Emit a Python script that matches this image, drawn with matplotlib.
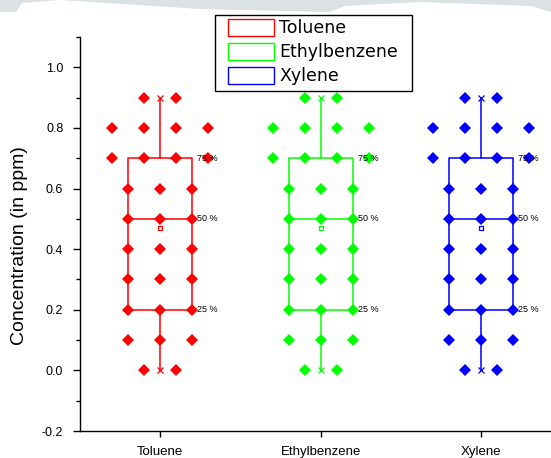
import numpy as np
import matplotlib
matplotlib.use("Agg")
import matplotlib.pyplot as plt
from matplotlib.patches import Patch, Polygon, Rectangle

plt.rcParams['font.family'] = ['Liberation Sans', 'DejaVu Sans']

# Data
categories = ['Toluene', 'Ethylbenzene', 'Xylene']
colors = ['#ff0000', '#00ff00', '#0000ff']

toluene = [0.9]*2 + [0.8]*4 + [0.7]*4 + [0.6]*3 + [0.5]*3 + [0.4]*3 + [0.3]*3 + [0.2]*3 + [0.1]*3 + [0.0]*2
ethylbenzene = [0.9]*2 + [0.8]*4 + [0.7]*4 + [0.6]*3 + [0.5]*3 + [0.4]*3 + [0.3]*3 + [0.2]*3 + [0.1]*3 + [0.0]*2
xylene = [0.9]*2 + [0.8]*4 + [0.7]*4 + [0.6]*3 + [0.5]*3 + [0.4]*3 + [0.3]*3 + [0.2]*3 + [0.1]*3 + [0.0]*2
series = [toluene, ethylbenzene, xylene]

# box statistics as shown (Origin box chart)
q1 = [0.2, 0.2, 0.2]
median = [0.5, 0.5, 0.5]
q3 = [0.7, 0.7, 0.7]
whisker_lo = [0.0, 0.0, 0.0]
whisker_hi = [0.9, 0.9, 0.9]
means = [0.47, 0.47, 0.47]

W, H = 551, 458
fig = plt.figure(figsize=(W/100, H/100), dpi=100)
ax = fig.add_axes([80/W, 27/H, 481.5/W, 394/H])

# grey strip at the very top of the screenshot
strip = np.array([[0, 446], [16, 446], [22, 455], [60, 458], [0, 458]]) / [W, H]
fig.patches.append(Polygon(strip, closed=True, transform=fig.transFigure,
                           facecolor='#dce1e4', edgecolor='none'))
strip2 = np.array([[60, 458], [200, 449], [330, 446], [345, 452], [420, 456],
                   [530, 452], [551, 446], [551, 458]]) / [W, H]
fig.patches.append(Polygon(strip2, closed=True, transform=fig.transFigure,
                           facecolor='#dce1e4', edgecolor='none'))

box_w = 0.4
for i, (vals, c) in enumerate(zip(series, colors)):
    pos = i + 1
    stats = [dict(q1=q1[i], med=median[i], q3=q3[i], whislo=whisker_lo[i],
                  whishi=whisker_hi[i], mean=means[i], fliers=[])]
    ax.bxp(stats, positions=[pos], widths=box_w, showcaps=False, showmeans=True,
           boxprops=dict(color=c, lw=1.1),
           whiskerprops=dict(color=c, lw=1.1),
           medianprops=dict(color=c, lw=1.1),
           meanprops=dict(marker='s', markersize=3.5, markerfacecolor='white',
                          markeredgecolor=c, markeredgewidth=0.9),
           zorder=2)
    # min / max markers
    ax.plot([pos, pos], [whisker_lo[i], whisker_hi[i]], linestyle='none',
            marker='x', markersize=4, markeredgewidth=0.9, color=c, zorder=3)

    # data points spread horizontally by bin
    vals = np.array(vals)
    for v in np.unique(vals):
        n = np.sum(vals == v)
        offs = (np.arange(n) - (n - 1) / 2) * 0.2
        ax.plot(pos + offs, [v]*n, linestyle='none', marker='D', markersize=6,
                color=c, markeredgewidth=0, zorder=4)

    # percentile labels
    for q, lab in [(q3[i], '75 %'), (median[i], '50 %'), (q1[i], '25 %')]:
        ax.text(pos + box_w/2 + 0.03, q, lab, fontsize=6.5, va='center', ha='left',
                color='black', zorder=5)

ax.set_xlim(0.5, 3.5)
ax.set_ylim(-0.2, 1.1)
ax.set_xticks([1, 2, 3])
ax.set_xticklabels(categories, fontsize=9.5)
ax.set_yticks(np.arange(-0.2, 1.01, 0.2))
ax.set_yticklabels(['%.1f' % t for t in np.arange(-0.2, 1.01, 0.2)], fontsize=9)
ax.set_yticks(np.arange(-0.1, 1.1, 0.2), minor=True)
ax.tick_params(axis='y', which='major', length=5, width=1, pad=7)
ax.tick_params(axis='x', which='major', length=4, width=1, pad=7)
ax.tick_params(axis='y', which='minor', length=3, width=1)
ax.spines['top'].set_visible(False)
ax.spines['right'].set_visible(False)
ax.spines['left'].set_linewidth(1)
ax.spines['bottom'].set_linewidth(1)
ax.set_ylabel('Concentration (in ppm)', fontsize=14)
ax.yaxis.set_label_coords(-0.108, 0.47)

# legend with a hand-placed frame (Origin-style, wide)
handles = [Patch(facecolor='none', edgecolor=c, lw=1) for c in colors]
fig.legend(handles, categories, loc='upper left', bbox_to_anchor=(228/W, 1 - 19/H),
           frameon=False, borderaxespad=0, borderpad=0,
           handlelength=2.65, handleheight=1.1, handletextpad=0.3,
           labelspacing=0.33, prop={'family': 'DejaVu Sans', 'size': 12.5})
fig.patches.append(Rectangle((215/W, 1 - 91/H), 197/W, 76/H, transform=fig.transFigure,
                             facecolor='white', edgecolor='black', lw=1, zorder=0))

fig.savefig('out.png', dpi=100)
